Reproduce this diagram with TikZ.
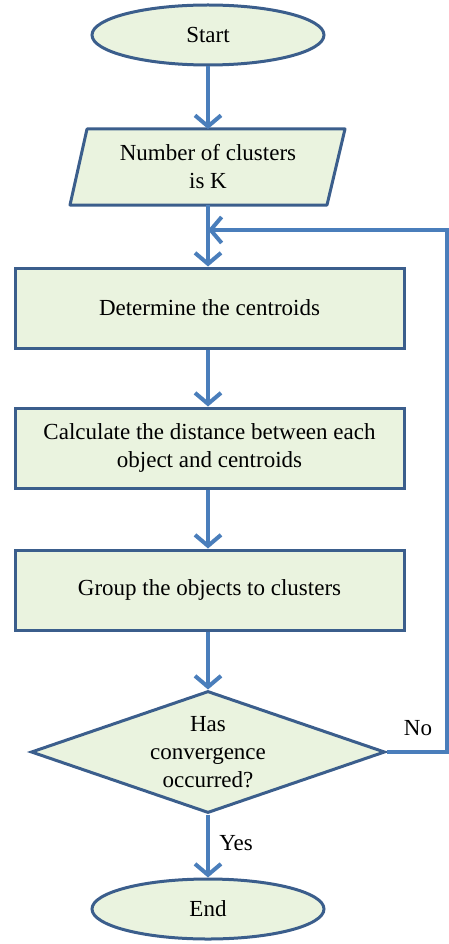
\documentclass[tikz,border=0pt]{standalone}
\usepackage{fontspec}
\setmainfont{Liberation Serif}
\usetikzlibrary{shapes.geometric,arrows.meta}
\definecolor{boxfill}{HTML}{EAF3DF}
\definecolor{boxline}{HTML}{3B5E8C}
\definecolor{flow}{HTML}{4A7EBB}
\begin{document}
\begin{tikzpicture}[x=1pt,y=-1pt,
  every node/.style={font=\fontsize{23}{28}\selectfont, align=center, inner sep=0pt},
  terminal/.style={ellipse, draw=boxline, fill=boxfill, line width=3pt, minimum width=232, minimum height=60},
  process/.style={rectangle, draw=boxline, fill=boxfill, line width=3pt, minimum width=389, minimum height=80},
  decision/.style={diamond, draw=boxline, fill=boxfill, line width=3pt, minimum width=354, minimum height=122},
  flowline/.style={draw=flow, line width=4pt, -{Straight Barb[length=11pt,width=26pt]}},
  plainline/.style={draw=flow, line width=4pt}]
\useasboundingbox (0,0) rectangle (449,944);

\node[terminal] (start) at (208,35) {Start};

% input parallelogram
\fill[boxfill] (87,129) -- (345,129) -- (327,205) -- (70,205) -- cycle;
\draw[boxline, line width=3pt, line join=round] (87,129) -- (345,129) -- (327,205) -- (70,205) -- cycle;
\node[minimum width=240, minimum height=76] (input) at (208,167) {Number of clusters\\is K};

\node[process] (cent) at (209.5,308) {Determine the centroids};
\node[process] (dist) at (209.5,448) {Calculate the distance between each\\object and centroids};
\node[process] (group) at (209.5,590) {Group the objects to clusters};
\node[decision, label={[align=center]center:Has\\convergence\\occurred?}] (conv) at (208,752) {};
\node[terminal] (stop) at (208,909) {End};

\coordinate (join) at (208,230);

\draw[flowline] (start.south) -- (208,129);
\draw[plainline] (input.south) -- (join);
\draw[flowline] (join) -- (cent.north -| start);
\draw[flowline] (cent.south -| start) -- (dist.north -| start);
\draw[flowline] (dist.south -| start) -- (group.north -| start);
\draw[flowline] (group.south -| start) -- (conv.north);
\draw[flowline] (conv.south) -- (stop.north);
\draw[draw=flow, line width=4pt, line join=miter, -{Straight Barb[length=11pt,width=26pt]}]
  (conv.east) -- (447,752) -- (447,230) -- (join);

\node (no) at (418,728) {No};
\node (yes) at (236,843) {Yes};
\end{tikzpicture}
\end{document}
